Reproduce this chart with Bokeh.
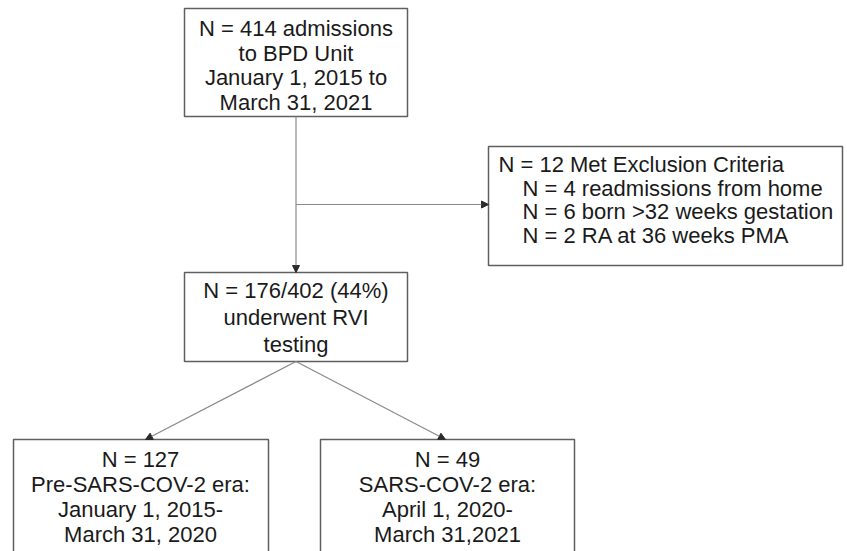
from bokeh.plotting import figure
from bokeh.models import Range1d, Arrow, NormalHead, ColumnDataSource
from bokeh.embed import file_html
from bokeh.resources import INLINE
from bokeh.core.properties import value

# ---- content (flowchart texts) ----
box_ids = ["admissions", "exclusion", "tested", "pre", "sars"]
admissions_lines = ["N = 414 admissions", "to BPD Unit", "January 1, 2015 to", "March 31, 2021"]
exclusion_lines = ["N = 12 Met Exclusion Criteria", "N = 4 readmissions from home",
                   "N = 6 born >32 weeks gestation", "N = 2 RA at 36 weeks PMA"]
tested_lines = ["N = 176/402 (44%)", "underwent RVI", "testing"]
pre_lines = ["N = 127", "Pre-SARS-COV-2 era:", "January 1, 2015-", "March 31, 2020"]
sars_lines = ["N = 49", "SARS-COV-2 era:", "April 1, 2020-", "March 31,2021"]
box_lines = [admissions_lines, exclusion_lines, tested_lines, pre_lines, sars_lines]

# ---- layout (pixel-like coordinates, y grows downward) ----
box_left = [184, 488, 184, 13, 320]
box_right = [407, 842, 407, 268, 574]
box_top = [8, 146, 272, 439, 439]
box_bottom = [116, 265, 361, 600, 600]
first_line_y = [28, 164, 290, 459, 459]
line_step = [24.5, 23.6, 27, 25, 25]
text_x = [295.5, 498, 295.5, 140, 447]
indent = [0, 24, 0, 0, 0]
align = ["center", "left", "center", "center", "center"]

W, H = 847, 551
p = figure(width=W, height=H, x_range=Range1d(0, W), y_range=Range1d(H, 0),
           toolbar_location=None, output_backend="svg", min_border=0,
           outline_line_color=None, background_fill_color="white", border_fill_color="white")
p.axis.visible = False
p.grid.visible = False

BOX_LINE = "#5f5f5f"
CONN = "#8a8a8a"
HEAD = "#2a2a2a"

# connectors
conn_x0 = [(box_left[0] + box_right[0]) / 2, (box_left[0] + box_right[0]) / 2,
           (box_left[2] + box_right[2]) / 2, (box_left[2] + box_right[2]) / 2]
conn_y0 = [box_bottom[0], (box_top[1] + box_bottom[1]) / 2 - 1.5, box_bottom[2], box_bottom[2]]
conn_x1 = [(box_left[2] + box_right[2]) / 2, box_left[1], 145, 445]
conn_y1 = [box_top[2], (box_top[1] + box_bottom[1]) / 2 - 1.5, box_top[3], box_top[4]]
for x0, y0, x1, y1 in zip(conn_x0, conn_y0, conn_x1, conn_y1):
    p.add_layout(Arrow(end=NormalHead(size=7, fill_color=HEAD, line_color=HEAD, line_width=1),
                       x_start=x0, y_start=y0, x_end=x1, y_end=y1,
                       line_color=CONN, line_width=1.2))

# boxes
p.quad(left=box_left, right=box_right, top=box_top, bottom=box_bottom,
       fill_color="white", line_color=BOX_LINE, line_width=1.5)

# texts
xs, ys, ts, als = [], [], [], []
for i, lines in enumerate(box_lines):
    for j, t in enumerate(lines):
        xs.append(text_x[i] + (indent[i] if j > 0 else 0))
        ys.append(first_line_y[i] + j * line_step[i])
        ts.append(t)
        als.append(align[i])
src = ColumnDataSource(dict(x=xs, y=ys, text=ts, align=als))
p.text(x="x", y="y", text="text", source=src, text_align="align", text_baseline="alphabetic",
       text_font=value("Liberation Sans"), text_font_size="22px", text_color="#1a1a1a")

open("out.html", "w").write(file_html(p, INLINE))
